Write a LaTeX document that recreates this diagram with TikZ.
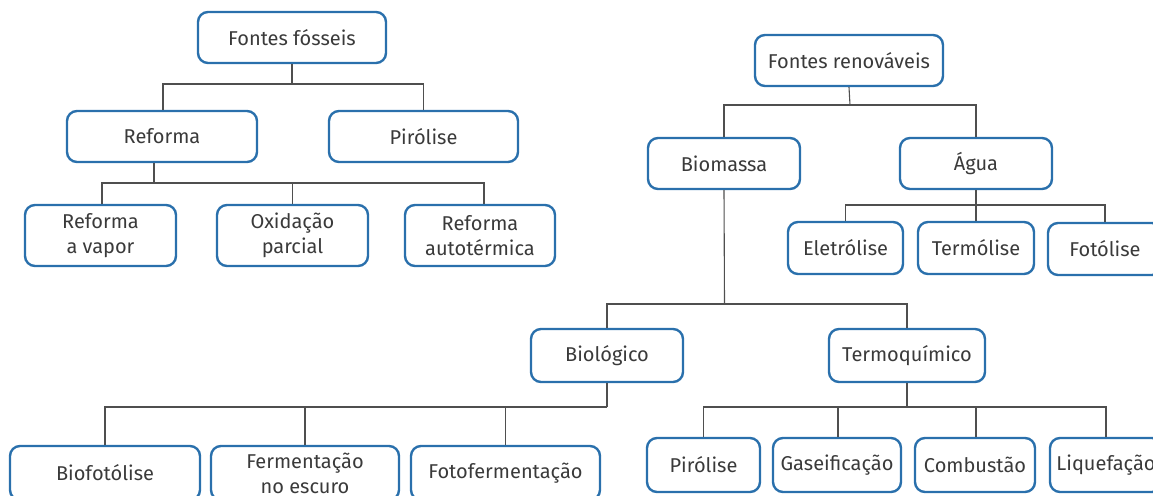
\documentclass[tikz,border=0pt]{standalone}
\usepackage{fontspec}
\setmainfont{Fira Sans}
\definecolor{bblue}{HTML}{2A70AC}
\definecolor{tgray}{HTML}{3A3A3A}
\definecolor{lgray}{HTML}{4F4F4F}
\begin{document}
\begin{tikzpicture}[x=1pt,y=-1pt,
  box/.style={draw=bblue, line width=2.4pt, rounded corners=10pt, text=tgray, align=center, inner sep=0pt, font=\fontsize{20}{25}\selectfont},
  bx/.style n args={2}{box, minimum width=#1, minimum height=#2},
  con/.style={draw=lgray, line width=1.1pt}]
\useasboundingbox (0,0) rectangle (1153,495);
% left tree
\node[bx={188pt}{51pt}] (ff) at (292,37.5) {Fontes fósseis};
\node[bx={190pt}{51pt}] (ref) at (162,136.5) {Reforma};
\node[bx={189pt}{51pt}] (pir1) at (423.5,136.5) {Pirólise};
\node[bx={151pt}{61pt}] (rv) at (100.5,235.5) {Reforma\\a vapor};
\node[bx={151pt}{61pt}] (ox) at (292.5,235.5) {Oxidação\\parcial};
\node[bx={150pt}{61pt}] (ra) at (480,235.5) {Reforma\\autotérmica};
% right tree
\node[bx={188pt}{51pt}] (fr) at (849,60.5) {Fontes renováveis};
\node[bx={152pt}{51pt}] (bio) at (724,163.5) {Biomassa};
\node[bx={152pt}{51pt}] (agua) at (976,163.5) {Água};
\node[bx={115pt}{52pt}] (ele) at (845.5,248) {Eletrólise};
\node[bx={116pt}{52pt}] (ter) at (976,248) {Termólise};
\node[bx={114pt}{52pt}] (fot) at (1105,249) {Fotólise};
\node[bx={152pt}{53pt}] (biol) at (607,355.5) {Biológico};
\node[bx={156pt}{53pt}] (termo) at (907,355.5) {Termoquímico};
\node[bx={190pt}{54pt}] (biof) at (105,473) {Biofotólise};
\node[bx={188pt}{54pt}] (ferm) at (305,473) {Fermentação\\no escuro};
\node[bx={189pt}{54pt}] (fotof) at (505.5,473) {Fotofermentação};
\node[bx={113pt}{54pt}] (pir2) at (703.5,465) {Pirólise};
\node[bx={128pt}{54pt}] (gas) at (837,465) {Gaseificação};
\node[bx={120pt}{54pt}] (comb) at (975,465) {Combustão};
\node[bx={112pt}{54pt}] (liq) at (1106,465) {Liquefação};
% junctions
\coordinate (j1) at (292,84);
\coordinate (j2) at (154,183);
\coordinate (j3) at (850,105);
\coordinate (j4) at (976,205);
\coordinate (j5) at (724.5,304);
\coordinate (j6) at (607,407);
\coordinate (j7) at (907,407);
% connectors
\draw[con] (ff.south) -- (j1);
\draw[con] (j1) -| ([xshift=1pt]ref.north);
\draw[con] (j1) -| (pir1.north);
\draw[con] ([xshift=-8pt]ref.south) -- (j2);
\draw[con] (j2) -| ([xshift=1.5pt]rv.north);
\draw[con] (j2) -| (ox.north);
\draw[con] (j2) -| ([xshift=4pt]ra.north);
\draw[con] (fr.south) -- (j3);
\draw[con] (j3) -| (bio.north);
\draw[con] (j3) -| (agua.north);
\draw[con] (agua.south) -- (j4);
\draw[con] (j4) -| (ele.north);
\draw[con] (j4) -- (ter.north);
\draw[con] (j4) -| (fot.north);
\draw[con] (bio.south) -- (j5);
\draw[con] (j5) -| (biol.north);
\draw[con] (j5) -| (termo.north);
\draw[con] (biol.south) -- (j6);
\draw[con] (j6) -| (biof.north);
\draw[con] (j6) -| (ferm.north);
\draw[con] (j6) -| (fotof.north);
\draw[con] (termo.south) -- (j7);
\draw[con] (j7) -| (pir2.north);
\draw[con] (j7) -| ([xshift=1pt]gas.north);
\draw[con] (j7) -| ([xshift=1pt]comb.north);
\draw[con] (j7) -| (liq.north);
\end{tikzpicture}
\end{document}
